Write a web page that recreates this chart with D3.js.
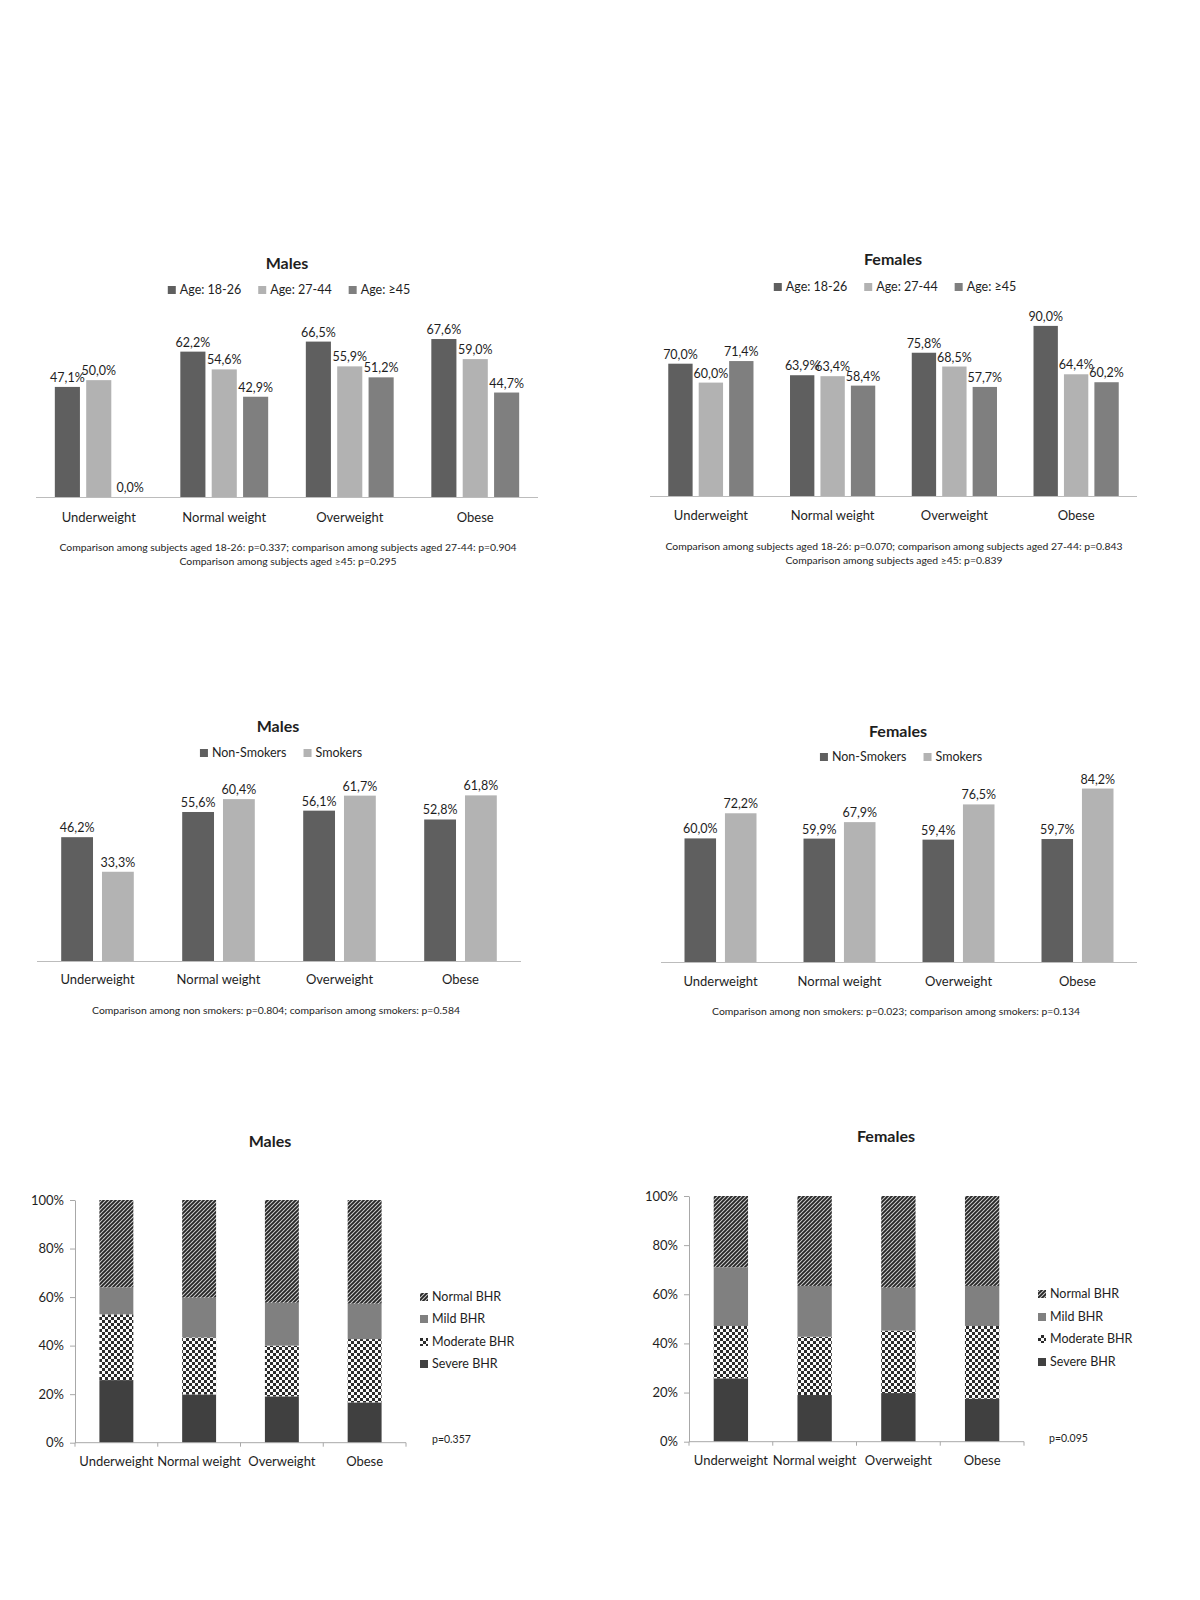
<!DOCTYPE html>
<html>
<head>
<meta charset="utf-8">
<script src="https://cdn.jsdelivr.net/npm/d3@7"></script>
<style>
  body { margin: 0; background: #fff; }
  svg text { font-family: Lato, "Open Sans", sans-serif; fill: #1e1e1e; }
</style>
</head>
<body>
<svg id="chart" width="1200" height="1600"></svg>
<script>
// categories shared by every panel
const categories = ["Underweight", "Normal weight", "Overweight", "Obese"]

// panel 1 + 2: age groups
const ageGroups = ["Age: 18-26", "Age: 27-44", "Age: \u226545"]
const malesAge18_26 = [47.1, 62.2, 66.5, 67.6]
const malesAge27_44 = [50.0, 54.6, 55.9, 59.0]
const malesAge45 = [0.0, 42.9, 51.2, 44.7]
const femalesAge18_26 = [70.0, 63.9, 75.8, 90.0]
const femalesAge27_44 = [60.0, 63.4, 68.5, 64.4]
const femalesAge45 = [71.4, 58.4, 57.7, 60.2]

// panel 3 + 4: smoking
const smokeGroups = ["Non-Smokers", "Smokers"]
const malesNonSmokers = [46.2, 55.6, 56.1, 52.8]
const malesSmokers = [33.3, 60.4, 61.7, 61.8]
const femalesNonSmokers = [60.0, 59.9, 59.4, 59.7]
const femalesSmokers = [72.2, 67.9, 76.5, 84.2]

// panel 5 + 6: BHR severity (stacked to 100%)
const bhrLevels = ["Severe BHR", "Moderate BHR", "Mild BHR", "Normal BHR"]
const malesSevere = [25.8, 19.9, 19.1, 16.6]
const malesModerate = [27.1, 23.5, 20.9, 26.1]
const malesMild = [11.1, 16.4, 17.7, 14.6]
const malesNormal = [36.0, 40.2, 42.3, 42.7]
const femalesSevere = [25.8, 19.0, 19.8, 17.5]
const femalesModerate = [21.3, 23.7, 25.4, 29.6]
const femalesMild = [23.9, 20.7, 17.5, 16.3]
const femalesNormal = [29.0, 36.6, 37.3, 36.6]
const percentTicks = [0, 20, 40, 60, 80, 100]

const svg = d3.select("#chart")
svg.append("rect").attr("width", 1200).attr("height", 1600).attr("fill", "#fff")

// fill patterns for the stacked charts
const defs = svg.append("defs")
const diag = defs.append("pattern")
  .attr("id", "diag").attr("patternUnits", "userSpaceOnUse")
  .attr("width", 4).attr("height", 4)
diag.append("rect").attr("width", 4).attr("height", 4).attr("fill", "#cfcfcf")
diag.append("path").attr("d", "M-1,1 l2,-2 M0,4 l4,-4 M3,5 l2,-2")
  .attr("stroke", "#262626").attr("stroke-width", 1.9)
const check = defs.append("pattern")
  .attr("id", "check").attr("patternUnits", "userSpaceOnUse")
  .attr("width", 6).attr("height", 6)
check.append("rect").attr("width", 6).attr("height", 6).attr("fill", "#fafafa")
check.append("rect").attr("width", 3).attr("height", 3).attr("fill", "#2b2b2b")
check.append("rect").attr("x", 3).attr("y", 3).attr("width", 3).attr("height", 3).attr("fill", "#2b2b2b")

const fmt = v => v.toFixed(1).replace(".", ",") + "%"

function drawLegendRow(g, names, colors, cx, cy) {
  const row = g.append("g")
  let x = 0
  names.forEach((n, i) => {
    const item = row.append("g").attr("transform", `translate(${x},0)`)
    item.append("rect").attr("x", 0).attr("y", cy - 4).attr("width", 8).attr("height", 8).attr("fill", colors[i])
    const t = item.append("text").attr("x", 12).attr("y", cy).attr("dy", "0.35em")
      .style("font-size", "12.5px").text(n)
    x += 12 + t.node().getComputedTextLength() + 17
  })
  const w = x - 17
  row.attr("transform", `translate(${cx - w / 2},0)`)
}

function groupedChart(o) {
  const g = svg.append("g")
  const x0 = d3.scaleBand().domain(categories).range(o.xRange).paddingInner(o.pad).paddingOuter(o.pad / 2)
  const x1 = d3.scaleBand().domain(o.groups).range([0, x0.bandwidth()]).paddingInner(o.innerPad)
  const y = d3.scaleLinear().domain([0, 100]).range([o.base, o.top])

  g.append("text").attr("x", o.title[0]).attr("y", o.title[1]).attr("dy", "0.35em")
    .attr("text-anchor", "middle").style("font-size", "16px").style("font-weight", "bold").text(o.titleText)
  drawLegendRow(g, o.groups, o.colors, o.legend[0], o.legend[1])

  o.series.forEach((vals, si) => {
    const sg = g.append("g")
    sg.selectAll("rect").data(vals).join("rect")
      .attr("x", (d, i) => x0(categories[i]) + x1(o.groups[si]))
      .attr("y", d => y(d))
      .attr("width", x1.bandwidth())
      .attr("height", d => o.base - y(d))
      .attr("fill", o.colors[si])
    sg.selectAll("text").data(vals).join("text")
      .attr("x", (d, i) => x0(categories[i]) + x1(o.groups[si]) + x1.bandwidth() / 2)
      .attr("y", d => y(d) - 5)
      .attr("text-anchor", "middle").style("font-size", "12.5px")
      .text(d => fmt(d))
  })

  g.append("line").attr("x1", o.xRange[0]).attr("x2", o.xRange[1])
    .attr("y1", o.base + 0.5).attr("y2", o.base + 0.5).attr("stroke", "#bcbcbc")

  g.selectAll(".cat").data(categories).join("text")
    .attr("x", d => x0(d) + x0.bandwidth() / 2).attr("y", o.catY).attr("dy", "0.35em")
    .attr("text-anchor", "middle").style("font-size", "13px").text(d => d)

  o.notes.forEach((n, i) => {
    g.append("text").attr("x", o.noteX).attr("y", o.noteY[i]).attr("dy", "0.35em")
      .attr("text-anchor", "middle").style("font-size", "10.4px").text(n)
  })
}

function stackedChart(o) {
  const g = svg.append("g")
  const x = d3.scaleBand().domain(categories).range(o.xRange).paddingInner(0.59).paddingOuter(0.295)
  const y = d3.scaleLinear().domain([0, 100]).range([o.base, o.top])
  const fills = ["#404040", "url(#check)", "#808080", "url(#diag)"]
  const rows = categories.map((c, i) => {
    const r = { cat: c }
    bhrLevels.forEach((l, j) => { r[l] = o.series[j][i] })
    return r
  })
  const stacked = d3.stack().keys(bhrLevels)(rows)

  g.append("text").attr("x", o.title[0]).attr("y", o.title[1]).attr("dy", "0.35em")
    .attr("text-anchor", "middle").style("font-size", "16px").style("font-weight", "bold").text(o.titleText)

  stacked.forEach((layer, li) => {
    g.append("g").selectAll("rect").data(layer).join("rect")
      .attr("x", d => x(d.data.cat))
      .attr("y", d => y(d[1]))
      .attr("width", x.bandwidth())
      .attr("height", d => y(d[0]) - y(d[1]))
      .attr("fill", fills[li])
  })

  const yAxis = g.append("g").attr("transform", `translate(${o.xRange[0]},0)`)
    .call(d3.axisLeft(y).tickValues(percentTicks).tickFormat(d => d + "%").tickSize(5).tickSizeOuter(0))
  yAxis.select(".domain").attr("stroke", "#a8a8a8")
  yAxis.selectAll(".tick line").attr("stroke", "#a8a8a8")
  yAxis.selectAll(".tick text").attr("x", -11).style("font-size", "13px").style("font-family", "Lato").attr("fill", "#1e1e1e")

  g.append("line").attr("x1", o.xRange[0]).attr("x2", o.xRange[1])
    .attr("y1", o.base).attr("y2", o.base).attr("stroke", "#a8a8a8")
  d3.range(categories.length + 1).forEach(i => {
    const tx = o.xRange[0] + i * x.step()
    g.append("line").attr("x1", tx).attr("x2", tx).attr("y1", o.base).attr("y2", o.base + 4).attr("stroke", "#a8a8a8")
  })

  g.selectAll(".cat").data(categories).join("text")
    .attr("x", d => x(d) + x.bandwidth() / 2).attr("y", o.catY).attr("dy", "0.35em")
    .attr("text-anchor", "middle").style("font-size", "13px").text(d => d)

  // legend: top to bottom is Normal, Mild, Moderate, Severe
  const order = [3, 2, 1, 0]
  order.forEach((li, k) => {
    g.append("rect").attr("x", o.legendX).attr("y", o.legendY[k] - 4).attr("width", 8).attr("height", 8).attr("fill", fills[li])
    g.append("text").attr("x", o.legendX + 12).attr("y", o.legendY[k]).attr("dy", "0.35em")
      .style("font-size", "12.5px").text(bhrLevels[li])
  })

  g.append("text").attr("x", o.pText[0]).attr("y", o.pText[1]).attr("dy", "0.35em")
    .style("font-size", "10.5px").text(o.pLabel)
}

const ageColors = ["#5f5f5f", "#b2b2b2", "#7f7f7f"]
const smokeColors = ["#5f5f5f", "#b3b3b3"]

groupedChart({
  titleText: "Males", title: [287, 263], legend: [289, 290],
  groups: ageGroups, colors: ageColors,
  series: [malesAge18_26, malesAge27_44, malesAge45],
  xRange: [36, 538], base: 497, top: 263.3, pad: 0.3, innerPad: 0.2, catY: 517,
  notes: ["Comparison among subjects aged 18-26: p=0.337; comparison among subjects aged 27-44: p=0.904",
    "Comparison among subjects aged \u226545: p=0.295"],
  noteX: 288, noteY: [547, 561]
})

groupedChart({
  titleText: "Females", title: [893, 259], legend: [895, 287],
  groups: ageGroups, colors: ageColors,
  series: [femalesAge18_26, femalesAge27_44, femalesAge45],
  xRange: [650, 1137], base: 496, top: 307, pad: 0.3, innerPad: 0.2, catY: 515,
  notes: ["Comparison among subjects aged 18-26: p=0.070; comparison among subjects aged 27-44: p=0.843",
    "Comparison among subjects aged \u226545: p=0.839"],
  noteX: 894, noteY: [546, 560]
})

groupedChart({
  titleText: "Males", title: [278, 726], legend: [281, 753],
  groups: smokeGroups, colors: smokeColors,
  series: [malesNonSmokers, malesSmokers],
  xRange: [37, 521], base: 961, top: 693, pad: 0.4, innerPad: 0.22, catY: 979,
  notes: ["Comparison among non smokers: p=0.804; comparison among smokers: p=0.584"],
  noteX: 276, noteY: [1010]
})

groupedChart({
  titleText: "Females", title: [898, 731], legend: [901, 757],
  groups: smokeGroups, colors: smokeColors,
  series: [femalesNonSmokers, femalesSmokers],
  xRange: [661, 1137], base: 962, top: 756, pad: 0.395, innerPad: 0.22, catY: 981,
  notes: ["Comparison among non smokers: p=0.023; comparison among smokers: p=0.134"],
  noteX: 896, noteY: [1011]
})

stackedChart({
  titleText: "Males", title: [270, 1141],
  series: [malesSevere, malesModerate, malesMild, malesNormal],
  xRange: [75, 406], base: 1442.7, top: 1200, catY: 1461,
  legendX: 420, legendY: [1297, 1319, 1342, 1364],
  pText: [432, 1439], pLabel: "p=0.357"
})

stackedChart({
  titleText: "Females", title: [886, 1136],
  series: [femalesSevere, femalesModerate, femalesMild, femalesNormal],
  xRange: [689, 1024], base: 1441.7, top: 1196, catY: 1460,
  legendX: 1038, legendY: [1294, 1317, 1339, 1362],
  pText: [1049, 1438], pLabel: "p=0.095"
})
</script>
</body>
</html>
